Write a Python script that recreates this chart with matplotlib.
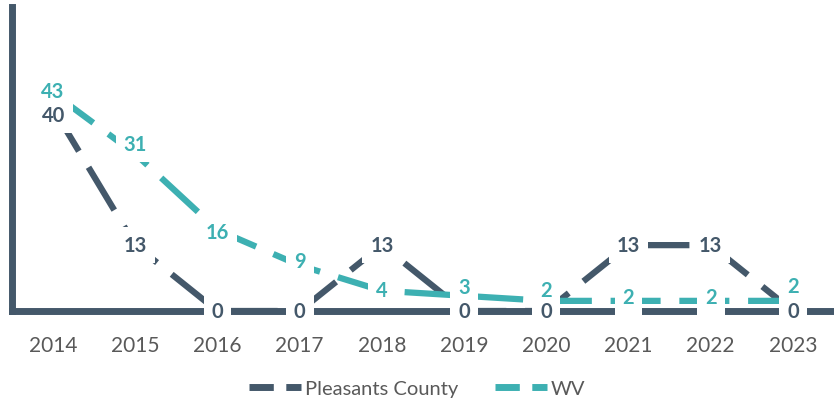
import matplotlib
matplotlib.use("Agg")
import matplotlib.pyplot as plt

years = ["2014", "2015", "2016", "2017", "2018", "2019", "2020", "2021", "2022", "2023"]
pleasants = [40, 13, 0, 0, 13, 0, 0, 13, 13, 0]
wv = [43, 31, 16, 9, 4, 3, 2, 2, 2, 2]

# nudges (points) so the labels sit where they do in the original
pleasants_dy = [-4.5, 0, 0, 0, 0, 0, 0, 0, 0, 0]
wv_dy = [1.5, 7, -1.5, 3, 0.5, 6, 8, 3, 3, 11]

dark = "#44586A"
teal = "#3DB0B2"
grey = "#595959"

plt.rcParams["font.family"] = ["Lato", "DejaVu Sans"]

fig = plt.figure(figsize=(8.34, 4.02), dpi=100)
ax = fig.add_axes([12 / 834, 90 / 402, 822 / 834, 304 / 402])

x = list(range(len(years)))
l1, = ax.plot(x, pleasants, color=dark, lw=4.5, dashes=(8, 3), zorder=3,
              label="Pleasants County", dash_capstyle="butt")
l2, = ax.plot(x, wv, color=teal, lw=4.5, dashes=(8, 3), zorder=3,
              label="WV", dash_capstyle="butt")

# white boxes first (cut the lines), then the label text on top of all boxes
for vals, dys, col in [(pleasants, pleasants_dy, dark), (wv, wv_dy, teal)]:
    for i in x:
        ax.annotate(str(vals[i]), (i, vals[i]), xytext=(0, dys[i]), textcoords="offset points",
                    ha="center", va="center", fontsize=14.5, fontweight="bold", color="white",
                    zorder=4, annotation_clip=False,
                    bbox=dict(boxstyle="square,pad=0.4", fc="white", ec="none"))
        ax.annotate(str(vals[i]), (i, vals[i]), xytext=(0, dys[i]), textcoords="offset points",
                    ha="center", va="center", fontsize=14.5, fontweight="bold", color=col,
                    zorder=6, annotation_clip=False)

ax.set_xlim(-0.5, 9.5)
ax.set_ylim(0, 60)
ax.set_xticks(x)
ax.set_xticklabels(years)
ax.set_yticks([])
ax.tick_params(axis="x", length=0, pad=17, labelsize=15, labelcolor=grey)

for s in ["top", "right"]:
    ax.spines[s].set_visible(False)
for s in ["left", "bottom"]:
    ax.spines[s].set_color(dark)
    ax.spines[s].set_linewidth(5)

leg = fig.legend(handles=[l1, l2], loc="lower center", bbox_to_anchor=(0.5, -0.035),
                 ncol=2, frameon=False, fontsize=14.5, handlelength=2.6,
                 handletextpad=0.2, columnspacing=1.8)
for t in leg.get_texts():
    t.set_color(grey)
for ln in leg.get_lines():
    ln.set_linewidth(5)
    ln.set_dashes((3.5, 1.8))

fig.savefig("out.png", dpi=100)
